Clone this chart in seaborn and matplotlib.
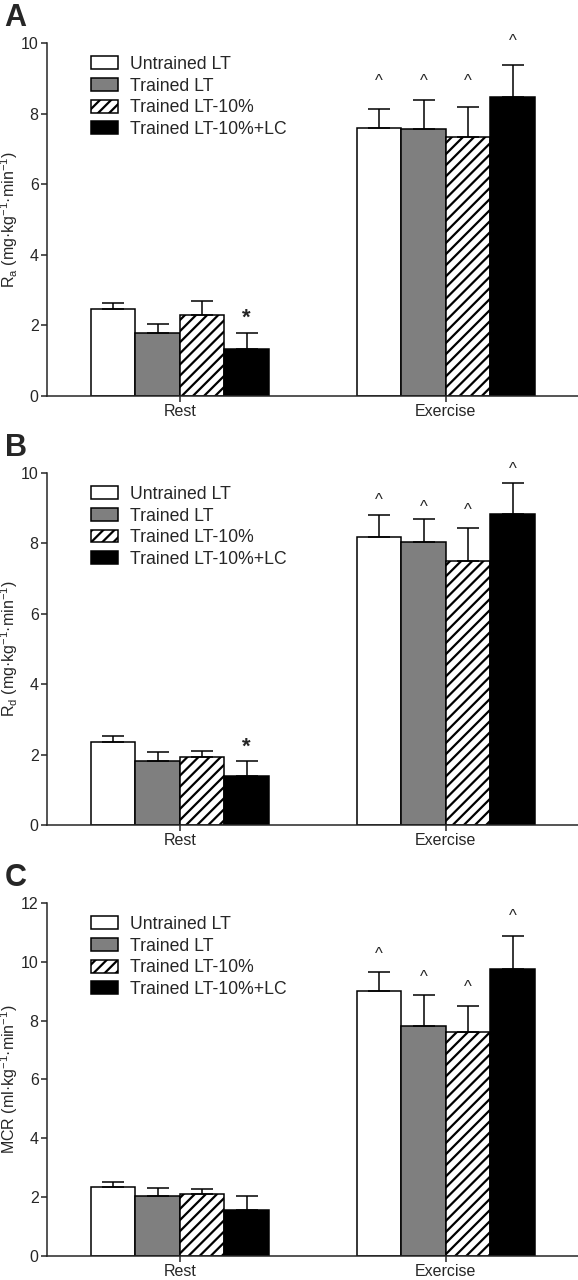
import numpy as np
import pandas as pd
import matplotlib
matplotlib.use("Agg")
import matplotlib.pyplot as plt
from matplotlib.patches import Patch
import seaborn as sns

groups = ["Untrained LT", "Trained LT", "Trained LT-10%", "Trained LT-10%+LC"]
conditions = ["Rest", "Exercise"]

# panel A: Ra
ra_rest = [2.46, 1.79, 2.29, 1.34]
ra_rest_err = [0.18, 0.25, 0.41, 0.44]
ra_ex = [7.59, 7.56, 7.34, 8.47]
ra_ex_err = [0.54, 0.82, 0.84, 0.91]
ra_caret = [8.9, 8.9, 8.9, 10.05]
ra_star = 2.2

# panel B: Rd
rd_rest = [2.36, 1.82, 1.93, 1.39]
rd_rest_err = [0.17, 0.25, 0.17, 0.43]
rd_ex = [8.18, 8.04, 7.50, 8.84]
rd_ex_err = [0.63, 0.65, 0.94, 0.88]
rd_caret = [9.23, 9.03, 8.92, 10.1]
rd_star = 2.2

# panel C: MCR
mcr_rest = [2.35, 2.04, 2.11, 1.56]
mcr_rest_err = [0.17, 0.27, 0.17, 0.48]
mcr_ex = [9.01, 7.82, 7.62, 9.76]
mcr_ex_err = [0.65, 1.06, 0.88, 1.12]
mcr_caret = [10.24, 9.46, 9.12, 11.53]
mcr_star = None

colors = ["white", "#7f7f7f", "white", "black"]
hatches = ["", "", "///", ""]

sns.set_style("ticks")
plt.rcParams["font.family"] = ["Liberation Sans", "DejaVu Sans"]
plt.rcParams["mathtext.default"] = "regular"
plt.rcParams["mathtext.fontset"] = "custom"
plt.rcParams["mathtext.rm"] = "Liberation Sans"
plt.rcParams["hatch.linewidth"] = 1.6
plt.rcParams["hatch.color"] = "black"

fig = plt.figure(figsize=(5.78, 12.8), dpi=100)

panels = [
    ("A", ra_rest, ra_rest_err, ra_ex, ra_ex_err, ra_caret, ra_star, 10,
     "R$_a$ (mg·kg$^{-1}$·min$^{-1}$)", [0.0813, 0.6906, 0.92, 0.2758]),
    ("B", rd_rest, rd_rest_err, rd_ex, rd_ex_err, rd_caret, rd_star, 10,
     "R$_d$ (mg·kg$^{-1}$·min$^{-1}$)", [0.0813, 0.3555, 0.92, 0.2750]),
    ("C", mcr_rest, mcr_rest_err, mcr_ex, mcr_ex_err, mcr_caret, mcr_star, 12,
     "MCR (ml·kg$^{-1}$·min$^{-1}$)", [0.0813, 0.01875, 0.92, 0.2758]),
]

for letter, rest, rest_err, ex, ex_err, caret, star, ymax, ylabel, pos in panels:
    ax = fig.add_axes(pos)
    df = pd.DataFrame({
        "condition": ["Rest"] * 4 + ["Exercise"] * 4,
        "group": groups * 2,
        "value": rest + ex,
        "err": rest_err + ex_err,
    })
    sns.barplot(data=df, x="condition", y="value", hue="group", order=conditions,
                hue_order=groups, palette=colors, saturation=1, width=0.67,
                errorbar=None, edgecolor="black", linewidth=1.1, legend=False, ax=ax)

    bar_conts = list(ax.containers)
    for i, cont in enumerate(bar_conts):
        g = groups[i]
        sub = df[df["group"] == g].set_index("condition").loc[conditions]
        for bar, (cond, row) in zip(cont, sub.iterrows()):
            bar.set_hatch(hatches[i])
            xc = bar.get_x() + bar.get_width() / 2
            ax.errorbar(xc, row["value"], yerr=[[0], [row["err"]]], fmt="none",
                        ecolor="black", elinewidth=1.1, capsize=8, capthick=1.1, zorder=1)
            if cond == "Exercise":
                ax.text(xc, caret[i], "^", ha="center", va="center", fontsize=12,
                        clip_on=False)
            elif star is not None and i == 3:
                ax.text(xc, star, "*", ha="center", va="center", fontsize=16,
                        fontweight="bold")

    ax.set_xlim(-0.5, 1.5)
    ax.set_ylim(0, ymax)
    ax.set_yticks(np.arange(0, ymax + 1, 2))
    ax.set_xlabel("")
    ax.set_ylabel(ylabel, fontsize=11.5)
    ax.yaxis.set_label_coords(-0.05, 0.5)
    sns.despine(ax=ax)
    for s in ["left", "bottom"]:
        ax.spines[s].set_linewidth(1.1)
    ax.tick_params(axis="both", direction="out", length=4, width=1.1,
                   labelsize=11.5, pad=2)

    handles = [Patch(facecolor=c, edgecolor="black", hatch=h, linewidth=1.1)
               for c, h in zip(colors, hatches)]
    ax.legend(handles, groups, loc="upper left", bbox_to_anchor=(0.083, 0.963),
              frameon=False, fontsize=12.7, handlelength=1.5, handleheight=0.75,
              labelspacing=0.26, handletextpad=0.68, borderpad=0, borderaxespad=0)

    fig.text(0.008, pos[1] + pos[3] + 40 / 1280, letter, fontsize=22,
             fontweight="bold", va="top", ha="left")

fig.savefig("out.png", dpi=100)
